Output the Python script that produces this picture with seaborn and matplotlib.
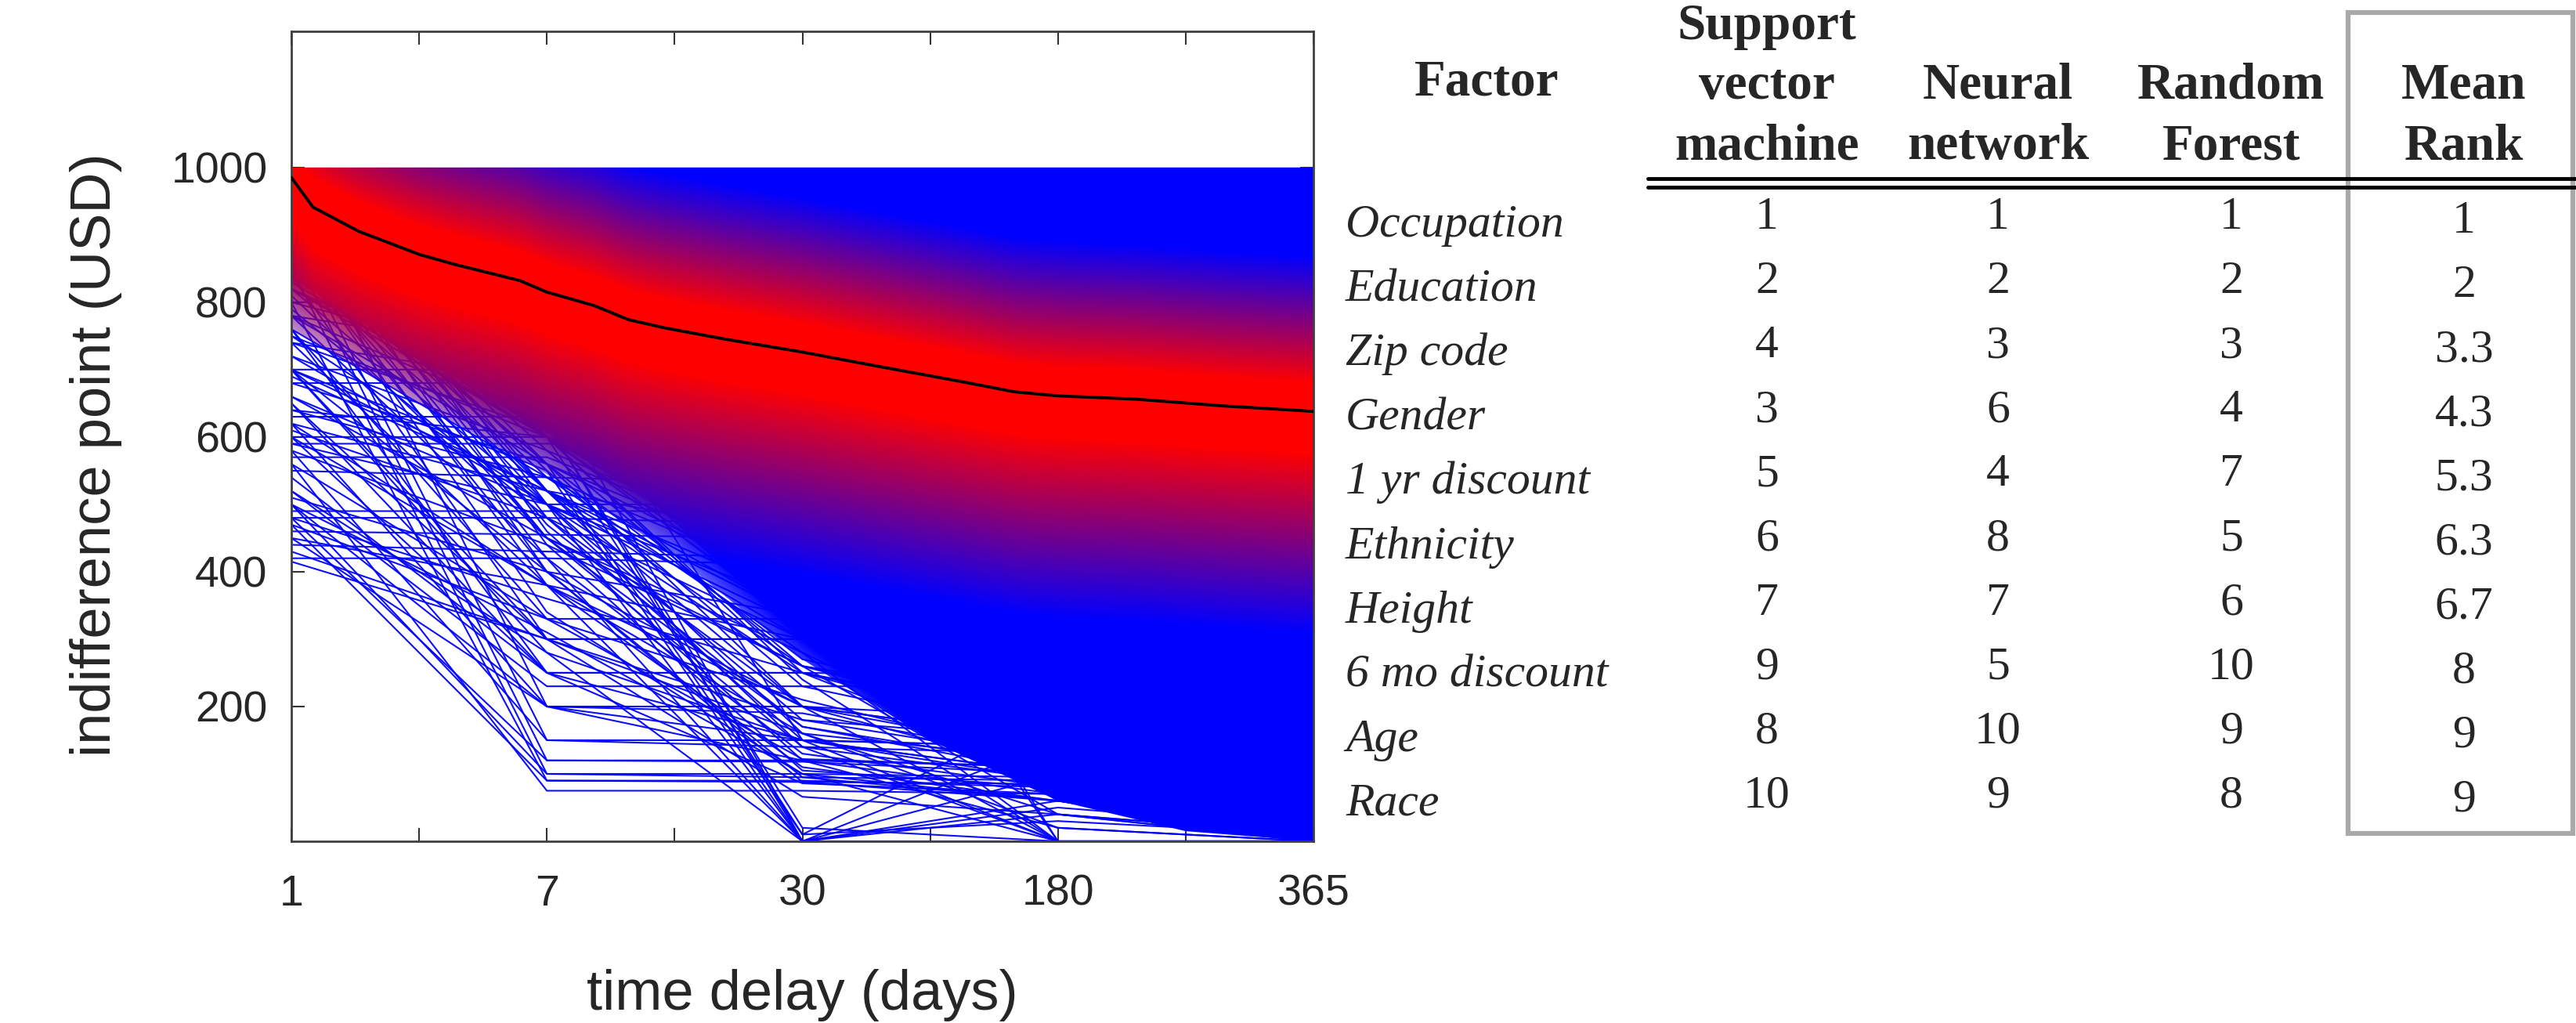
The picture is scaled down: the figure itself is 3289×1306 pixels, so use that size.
import numpy as np
import pandas as pd
import matplotlib
matplotlib.use("Agg")
import matplotlib.pyplot as plt
import seaborn as sns
from matplotlib.colors import LinearSegmentedColormap
from matplotlib.patches import Rectangle
from matplotlib.lines import Line2D

# ---------------- DATA ---------------- #

# delays are drawn at equally spaced category positions
delay_labels = ["1", "7", "30", "180", "365"]
delay_pos = [0, 2, 4, 6, 8]

# mean indifference curve (black line)
mean_x = [0, 0.17, 0.53, 1.0, 1.28, 1.79, 2.0, 2.37, 2.64, 2.92, 3.4, 4.0,
          4.56, 5.25, 5.66, 6.0, 6.62, 7.3, 8.0]
mean_y = [985, 941, 905, 871, 856, 832, 815, 795, 774, 762, 745, 726,
          706, 682, 667, 661, 656, 646, 638]

# dense band of individual curves (upper / lower edge)
band_x = [0, 1, 2, 3, 4, 5, 6, 7, 8]
band_high = [1000, 1000, 1000, 1000, 1000, 1000, 1000, 1000, 1000]
band_low = [760, 650, 545, 425, 270, 150, 60, 15, 0]

# individual subject curves seen below the band (values at 1, 7, 30, 180, 365 days)
blue_curves = [
    [490, 490, 490, 485, 480], [480, 480, 470, 300, 200], [460, 455, 450, 250, 120],
    [420, 420, 410, 150, 40], [415, 300, 66, 40, 10], [500, 310, 100, 60, 30],
    [470, 330, 122, 110, 90], [510, 400, 200, 150, 100], [540, 250, 86, 70, 50],
    [590, 590, 580, 400, 210], [620, 520, 300, 250, 150], [640, 600, 335, 200, 100],
    [680, 680, 670, 300, 50], [700, 700, 690, 500, 250], [720, 500, 250, 100, 50],
    [750, 600, 400, 200, 100], [790, 480, 200, 150, 80], [800, 800, 480, 300, 200],
    [810, 450, 170, 100, 50], [830, 600, 420, 280, 150], [870, 400, 88, 60, 20],
    [880, 340, 100, 0, 0], [900, 500, 180, 120, 60], [900, 420, 130, 80, 40],
    [890, 380, 110, 60, 10], [910, 600, 250, 170, 90], [920, 650, 300, 200, 120],
    [930, 700, 330, 220, 150], [940, 560, 200, 100, 50], [950, 730, 380, 250, 180],
    [960, 750, 450, 300, 250], [970, 800, 500, 350, 300], [980, 600, 240, 0, 0],
    [990, 800, 350, 200, 100], [1000, 700, 400, 250, 200], [860, 700, 480, 320, 260],
    [850, 520, 330, 260, 200], [880, 760, 560, 380, 280], [900, 680, 0, 0, 0],
    [920, 600, 10, 30, 10], [700, 400, 335, 335, 300], [650, 300, 300, 300, 200],
    [600, 250, 250, 150, 100], [480, 120, 120, 110, 50], [500, 100, 95, 90, 80],
    [560, 75, 75, 70, 60], [750, 500, 500, 200, 0], [850, 650, 550, 0, 0],
    [930, 800, 640, 100, 0], [960, 850, 600, 300, 0], [700, 550, 0, 50, 20],
    [820, 620, 20, 0, 0], [600, 380, 200, 0, 0], [660, 450, 280, 100, 0],
    [780, 560, 370, 180, 60], [880, 700, 520, 220, 100], [940, 780, 600, 400, 200],
    [980, 900, 700, 450, 300], [990, 880, 660, 500, 350], [1000, 950, 800, 600, 400],
    [550, 540, 530, 520, 100], [450, 200, 150, 140, 130], [520, 230, 230, 230, 220],
    [760, 250, 150, 90, 30], [840, 300, 160, 20, 0], [870, 450, 260, 180, 0],
    [900, 750, 150, 0, 0], [950, 600, 460, 380, 0], [800, 700, 600, 0, 0],
    [630, 630, 400, 350, 300], [690, 520, 450, 380, 330], [740, 680, 600, 420, 360],
    [780, 720, 650, 480, 400], [820, 650, 520, 450, 380], [950, 850, 720, 550, 450],
    [1000, 900, 750, 520, 420], [970, 880, 640, 330, 180], [910, 820, 560, 250, 120],
    [580, 150, 140, 130, 120], [470, 90, 90, 80, 0],
    [860, 640, 420, 260, 150], [840, 700, 500, 300, 180], [820, 600, 380, 240, 120],
    [780, 620, 450, 320, 200], [760, 540, 330, 220, 140], [740, 610, 480, 360, 250],
    [720, 580, 420, 300, 220], [700, 520, 360, 260, 160], [680, 560, 400, 240, 120],
    [660, 500, 320, 200, 90], [640, 540, 380, 280, 180], [610, 480, 300, 180, 80],
    [600, 600, 500, 200, 60], [590, 500, 350, 300, 240], [580, 440, 260, 160, 70],
    [570, 570, 420, 250, 110], [990, 500, 140, 90, 40], [985, 460, 120, 70, 20],
    [975, 520, 160, 120, 60], [965, 480, 150, 100, 30], [955, 440, 105, 80, 50],
    [945, 400, 95, 60, 0], [935, 520, 200, 130, 70], [925, 470, 170, 110, 40],
    [915, 550, 230, 150, 80], [905, 450, 140, 0, 0], [895, 520, 260, 200, 100],
    [885, 560, 270, 190, 130], [760, 330, 330, 330, 250], [700, 300, 300, 290, 200],
    [650, 250, 250, 245, 150], [620, 200, 200, 180, 90], [900, 150, 150, 140, 60],
    [880, 120, 118, 100, 40], [850, 100, 100, 95, 20], [800, 90, 88, 85, 70],
    [950, 200, 190, 120, 0], [820, 500, 0, 100, 50], [780, 420, 0, 40, 0],
    [740, 380, 0, 150, 80], [960, 620, 0, 0, 0], [880, 560, 10, 200, 100],
    [700, 280, 0, 60, 10], [980, 820, 520, 220, 0], [970, 760, 480, 150, 0],
    [960, 700, 440, 300, 140], [940, 680, 410, 120, 0], [920, 720, 500, 280, 100],
    [900, 640, 380, 100, 20], [880, 600, 320, 80, 0], [870, 660, 460, 330, 220],
    [1000, 850, 560, 260, 80], [1000, 780, 460, 200, 60], [990, 720, 380, 160, 30],
    [950, 660, 300, 60, 0], [920, 580, 260, 40, 0], [890, 540, 280, 0, 0],
    [520, 280, 150, 100, 40], [500, 200, 120, 20, 0], [450, 380, 300, 200, 100],
    [440, 430, 420, 300, 150], [430, 300, 180, 150, 120], [480, 360, 250, 180, 0],
    [560, 330, 210, 120, 20], [620, 380, 160, 40, 10],
]

# ranking table
factors = ["Occupation", "Education", "Zip code", "Gender", "1 yr discount",
           "Ethnicity", "Height", "6 mo discount", "Age", "Race"]
svm_rank = ["1", "2", "4", "3", "5", "6", "7", "9", "8", "10"]
nn_rank = ["1", "2", "3", "6", "4", "8", "7", "5", "10", "9"]
rf_rank = ["1", "2", "3", "4", "7", "5", "6", "10", "9", "8"]
mean_rank = ["1", "2", "3.3", "4.3", "5.3", "6.3", "6.7", "8", "9", "9"]
col_headers = [["Support", "vector", "machine"], ["Neural", "network"],
               ["Random", "Forest"], ["Mean", "Rank"]]

# ---------------- FIGURE ---------------- #

sns.set_style("ticks")
plt.rcParams["font.family"] = ["Liberation Sans", "DejaVu Sans"]

W, H = 3289, 1306
fig = plt.figure(figsize=(W / 100, H / 100), dpi=100)
ax = fig.add_axes([372 / W, 1 - 1074 / H, (1677 - 372) / W, (1074 - 40) / H])

# individual curves
rows = []
for i, c in enumerate(blue_curves):
    for p, v in zip(delay_pos, c):
        rows.append((i, p, v))
df = pd.DataFrame(rows, columns=["curve", "pos", "value"])
sns.lineplot(data=df, x="pos", y="value", units="curve", estimator=None,
             color="#0000ff", lw=1.5, alpha=0.95, ax=ax, legend=False, zorder=1)

# dense band, coloured red near the mean and blue far from it
rb = LinearSegmentedColormap.from_list("rb", ["#ff0000", "#0000ff"])
gx = np.linspace(0, 8, 801)
gy = np.linspace(0, 1200, 1201)
m = np.interp(gx, mean_x, mean_y)
diff = gy[:, None] - m[None, :]
shade = np.where(diff > 0, (diff - 40) / 190, (-diff - 60) / 270)
shade = np.clip(shade, 0, 1)
# soften the lower edge of the band on the left, where the curves thin out
low = np.interp(gx, band_x, band_low)
floor = np.interp(gx, [0, 3, 5, 8], [0.45, 0.6, 1, 1])
fade = np.clip((gy[:, None] - low[None, :]) / 140 + floor[None, :], 0, 1)
im = ax.imshow(shade, extent=[0, 8, 0, 1200], origin="lower", aspect="auto",
               cmap=rb, vmin=0, vmax=1, zorder=2, interpolation="bilinear")
im.set_alpha(fade)
band = ax.fill_between(band_x, band_low, band_high, facecolor="none", edgecolor="none")
im.set_clip_path(band.get_paths()[0], transform=ax.transData)

# mean curve
sns.lineplot(x=mean_x, y=mean_y, color="black", lw=2.8, ax=ax, zorder=3)

ax.set_xlim(0, 8)
ax.set_ylim(0, 1202)
ax.set_xticks(delay_pos)
ax.set_xticklabels(delay_labels)
ax.set_xticks([1, 3, 5, 7], minor=True)
ax.set_yticks([200, 400, 600, 800, 1000])
ax.tick_params(which="both", direction="in", length=12, width=1.5, color="#333333",
               top=True, right=True)
ax.tick_params(axis="x", labelsize=40, pad=30)
ax.tick_params(axis="y", labelsize=40, pad=22)
for s in ax.spines.values():
    s.set_color("#404040")
    s.set_linewidth(2)
ax.set_xlabel("time delay (days)", fontsize=52)
ax.set_ylabel("indifference point (USD)", fontsize=52)
ax.xaxis.set_label_coords(0.5, -0.158)
ax.yaxis.set_label_coords(-0.1655, 0.477)

# ---------------- TABLE ---------------- #

def fx(x):
    return x / W

def fy(y):
    return 1 - y / H

serif = "Liberation Serif"
col_x = [2256, 2551, 2849, 3146]
head_base = [50, 126, 203]

fig.text(fx(1898), fy(121), "Factor", ha="center", va="baseline", fontsize=47,
         fontweight="bold", family=serif)
for cx, lines in zip(col_x, col_headers):
    start = 3 - len(lines)
    for k, txt in enumerate(lines):
        fig.text(fx(cx), fy(head_base[start + k]), txt, ha="center", va="baseline",
                 fontsize=47, fontweight="bold", family=serif)

fig.add_artist(Line2D([fx(2104), 1], [fy(228), fy(228)], transform=fig.transFigure,
                      color="black", lw=3.5))
fig.add_artist(Line2D([fx(2104), 1], [fy(239), fy(239)], transform=fig.transFigure,
                      color="black", lw=3.5))

row_y0, row_step = 302, 82.1
for i, name in enumerate(factors):
    yb = row_y0 + i * row_step
    fig.text(fx(1718), fy(yb), name, ha="left", va="baseline", fontsize=43,
             style="italic", family=serif)
    for cx, col in zip(col_x[:3], [svm_rank, nn_rank, rf_rank]):
        fig.text(fx(cx), fy(yb - 10), col[i], ha="center", va="baseline",
                 fontsize=43, family=serif)
    fig.text(fx(col_x[3]), fy(yb - 5), mean_rank[i], ha="center", va="baseline",
             fontsize=43, family=serif)

fig.add_artist(Rectangle((fx(2998), fy(1064)), fx(3285) - fx(2998), (1064 - 16) / H,
                         transform=fig.transFigure, fill=False,
                         edgecolor="#a9a9a9", lw=4.5))

fig.savefig("out.png", dpi=100)
